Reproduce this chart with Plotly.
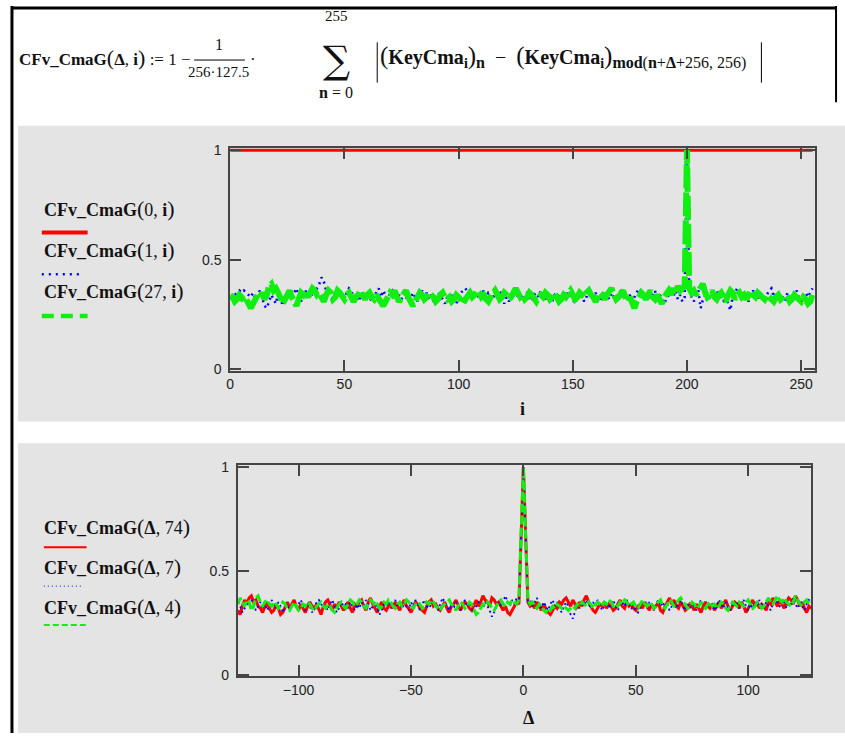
import plotly.graph_objects as go

# ---------------- data ----------------
i_vals = list(range(256))
cfv_0_i = [1.0] * 256

cfv_1_i = [
0.33,0.31,0.34,0.35,0.36,0.35,0.36,0.35,0.34,0.33,0.35,0.32,0.34,0.36,0.33,0.29,
0.28,0.31,0.34,0.32,0.30,0.35,0.33,0.29,0.34,0.32,0.36,0.33,0.35,0.37,0.33,0.31,
0.34,0.36,0.32,0.35,0.33,0.34,0.37,0.39,0.42,0.40,0.36,0.35,0.34,0.32,0.35,0.33,
0.36,0.34,0.32,0.35,0.37,0.36,0.33,0.34,0.31,0.33,0.35,0.32,0.34,0.33,0.31,0.34,
0.35,0.37,0.33,0.36,0.34,0.32,0.35,0.36,0.33,0.31,0.34,0.32,0.35,0.33,0.34,0.32,
0.35,0.33,0.31,0.34,0.36,0.33,0.35,0.32,0.34,0.31,0.33,0.35,0.34,0.32,0.30,0.33,
0.31,0.34,0.32,0.30,0.33,0.35,0.36,0.37,0.35,0.36,0.34,0.33,0.35,0.32,0.34,0.36,
0.33,0.35,0.34,0.32,0.35,0.33,0.36,0.34,0.30,0.33,0.31,0.34,0.36,0.35,0.33,0.34,
0.32,0.34,0.35,0.33,0.31,0.34,0.35,0.33,0.36,0.34,0.32,0.35,0.33,0.31,0.34,0.35,
0.33,0.32,0.34,0.36,0.33,0.35,0.32,0.30,0.33,0.35,0.34,0.31,0.33,0.36,0.34,0.32,
0.35,0.33,0.31,0.34,0.36,0.34,0.32,0.35,0.33,0.31,0.34,0.36,0.33,0.35,0.32,0.34,
0.31,0.33,0.35,0.37,0.36,0.33,0.34,0.32,0.35,0.33,0.36,0.31,0.34,0.33,0.30,0.32,
0.34,0.35,0.33,0.36,0.32,0.34,0.31,0.33,1.00,0.35,0.33,0.31,0.34,0.36,0.28,0.32,
0.34,0.31,0.33,0.35,0.32,0.36,0.34,0.33,0.31,0.35,0.30,0.27,0.33,0.35,0.37,0.34,
0.32,0.35,0.33,0.31,0.34,0.36,0.33,0.32,0.35,0.33,0.31,0.34,0.36,0.37,0.33,0.35,
0.32,0.34,0.33,0.31,0.35,0.33,0.34,0.32,0.36,0.33,0.31,0.34,0.35,0.33,0.35,0.37]

cfv_27_i = [
0.34,0.33,0.31,0.32,0.34,0.33,0.31,0.32,0.30,0.28,0.30,0.32,0.34,0.33,0.35,0.32,
0.34,0.38,0.39,0.36,0.37,0.35,0.33,0.30,0.32,0.35,0.36,0.33,0.31,0.29,0.32,0.35,
0.34,0.36,0.33,0.35,0.37,0.36,0.34,0.35,0.33,0.31,0.34,0.36,0.35,0.32,0.33,0.36,
0.35,0.33,0.32,0.34,0.35,0.33,0.31,0.33,0.34,0.36,0.33,0.32,0.34,0.35,0.33,0.32,
0.34,0.32,0.30,0.29,0.31,0.33,0.35,0.34,0.36,0.33,0.31,0.33,0.35,0.36,0.33,0.31,
0.29,0.31,0.33,0.35,0.34,0.32,0.33,0.35,0.34,0.33,0.31,0.32,0.34,0.35,0.33,0.32,
0.33,0.31,0.32,0.34,0.33,0.31,0.30,0.32,0.34,0.35,0.33,0.34,0.36,0.35,0.33,0.34,
0.32,0.31,0.33,0.35,0.36,0.34,0.32,0.33,0.35,0.34,0.32,0.33,0.35,0.37,0.35,0.33,
0.34,0.32,0.33,0.35,0.34,0.32,0.31,0.33,0.34,0.33,0.35,0.34,0.32,0.33,0.35,0.33,
0.31,0.32,0.34,0.33,0.35,0.36,0.34,0.32,0.33,0.35,0.34,0.33,0.35,0.36,0.34,0.33,
0.31,0.33,0.35,0.34,0.32,0.34,0.36,0.37,0.34,0.32,0.33,0.35,0.36,0.33,0.31,0.33,
0.30,0.28,0.31,0.33,0.35,0.34,0.32,0.34,0.36,0.33,0.32,0.34,0.31,0.30,0.33,0.35,
0.36,0.34,0.37,0.35,0.38,0.36,0.37,0.38,1.00,0.37,0.35,0.36,0.34,0.36,0.38,0.39,
0.35,0.33,0.34,0.36,0.33,0.32,0.34,0.35,0.33,0.31,0.34,0.36,0.35,0.32,0.34,0.35,
0.33,0.34,0.32,0.34,0.36,0.34,0.33,0.35,0.34,0.33,0.32,0.34,0.33,0.32,0.31,0.33,
0.34,0.32,0.33,0.34,0.33,0.31,0.32,0.34,0.33,0.32,0.31,0.33,0.32,0.30,0.31,0.34]

delta_vals = list(range(-127, 129))

cfv_d_74 = [
0.31,0.29,0.33,0.36,0.34,0.37,0.38,0.35,0.36,0.33,0.32,0.30,0.33,0.35,0.32,0.30,
0.31,0.34,0.32,0.29,0.30,0.33,0.35,0.32,0.34,0.36,0.33,0.31,0.34,0.32,0.30,0.33,
0.35,0.33,0.32,0.34,0.31,0.29,0.33,0.35,0.36,0.33,0.31,0.34,0.32,0.35,0.33,0.31,
0.33,0.35,0.32,0.30,0.34,0.33,0.35,0.36,0.33,0.31,0.35,0.37,0.34,0.32,0.30,0.33,
0.35,0.32,0.31,0.33,0.34,0.32,0.35,0.33,0.31,0.34,0.36,0.33,0.32,0.30,0.33,0.35,
0.34,0.32,0.31,0.30,0.33,0.35,0.36,0.33,0.34,0.32,0.31,0.33,0.35,0.32,0.30,0.33,
0.34,0.36,0.33,0.31,0.33,0.35,0.34,0.32,0.31,0.34,0.36,0.33,0.35,0.38,0.36,0.35,
0.33,0.37,0.36,0.34,0.35,0.33,0.31,0.33,0.30,0.29,0.31,0.33,0.35,0.34,0.67,1.00,
0.67,0.35,0.33,0.34,0.32,0.35,0.33,0.31,0.34,0.32,0.30,0.29,0.31,0.33,0.32,0.35,
0.34,0.36,0.37,0.35,0.33,0.36,0.34,0.32,0.35,0.33,0.36,0.38,0.35,0.33,0.31,0.30,
0.32,0.34,0.33,0.35,0.32,0.34,0.33,0.31,0.32,0.34,0.36,0.33,0.32,0.35,0.33,0.34,
0.32,0.31,0.33,0.34,0.32,0.35,0.33,0.31,0.34,0.32,0.33,0.35,0.31,0.30,0.33,0.35,
0.37,0.34,0.36,0.33,0.32,0.35,0.33,0.31,0.32,0.34,0.33,0.31,0.34,0.32,0.30,0.33,
0.35,0.33,0.32,0.34,0.31,0.33,0.35,0.32,0.34,0.36,0.33,0.31,0.33,0.35,0.34,0.32,
0.35,0.33,0.30,0.32,0.34,0.36,0.33,0.35,0.32,0.34,0.33,0.31,0.35,0.34,0.37,0.35,
0.33,0.36,0.34,0.32,0.35,0.37,0.36,0.34,0.38,0.36,0.33,0.35,0.32,0.30,0.33,0.32]

cfv_d_7 = [
0.35,0.33,0.30,0.32,0.34,0.33,0.36,0.34,0.31,0.33,0.35,0.32,0.34,0.31,0.33,0.36,
0.34,0.32,0.35,0.33,0.30,0.32,0.34,0.31,0.33,0.35,0.32,0.34,0.36,0.33,0.31,0.35,
0.33,0.30,0.32,0.35,0.36,0.34,0.32,0.33,0.31,0.34,0.36,0.33,0.30,0.32,0.35,0.33,
0.34,0.32,0.35,0.33,0.31,0.34,0.32,0.35,0.33,0.36,0.34,0.31,0.33,0.35,0.32,0.29,
0.31,0.34,0.33,0.35,0.32,0.34,0.36,0.33,0.35,0.32,0.34,0.33,0.31,0.35,0.33,0.36,
0.33,0.31,0.34,0.36,0.33,0.32,0.34,0.35,0.33,0.31,0.34,0.37,0.35,0.33,0.31,0.34,
0.32,0.35,0.33,0.31,0.34,0.36,0.33,0.35,0.32,0.30,0.33,0.35,0.34,0.32,0.35,0.33,
0.31,0.28,0.30,0.33,0.35,0.33,0.36,0.38,0.35,0.33,0.36,0.34,0.37,0.35,0.66,1.00,
0.66,0.34,0.36,0.33,0.35,0.37,0.34,0.32,0.35,0.33,0.31,0.34,0.36,0.33,0.35,0.32,
0.30,0.33,0.35,0.33,0.29,0.27,0.31,0.34,0.32,0.35,0.33,0.36,0.34,0.32,0.35,0.33,
0.36,0.34,0.31,0.33,0.35,0.32,0.34,0.36,0.33,0.31,0.34,0.35,0.33,0.36,0.34,0.32,
0.33,0.31,0.30,0.33,0.35,0.34,0.32,0.35,0.33,0.31,0.34,0.36,0.33,0.35,0.32,0.34,
0.31,0.33,0.35,0.32,0.34,0.36,0.33,0.31,0.34,0.32,0.35,0.33,0.31,0.34,0.36,0.33,
0.32,0.35,0.33,0.34,0.31,0.33,0.36,0.34,0.32,0.35,0.33,0.31,0.34,0.33,0.35,0.32,
0.34,0.36,0.33,0.31,0.34,0.32,0.35,0.33,0.36,0.34,0.32,0.35,0.33,0.31,0.34,0.36,
0.35,0.33,0.34,0.36,0.32,0.35,0.33,0.37,0.34,0.32,0.35,0.33,0.31,0.34,0.36,0.35]

cfv_d_4 = [
0.34,0.37,0.35,0.33,0.36,0.35,0.31,0.33,0.37,0.38,0.35,0.33,0.35,0.36,0.34,0.33,
0.35,0.34,0.32,0.33,0.35,0.34,0.32,0.31,0.33,0.35,0.33,0.31,0.32,0.34,0.33,0.35,
0.34,0.32,0.31,0.33,0.34,0.35,0.33,0.32,0.34,0.33,0.31,0.30,0.32,0.34,0.35,0.33,
0.32,0.34,0.36,0.35,0.33,0.34,0.36,0.35,0.33,0.32,0.34,0.36,0.35,0.33,0.34,0.32,
0.33,0.35,0.34,0.36,0.35,0.33,0.32,0.34,0.35,0.33,0.34,0.36,0.35,0.33,0.32,0.34,
0.35,0.34,0.32,0.33,0.35,0.34,0.36,0.35,0.33,0.32,0.31,0.33,0.34,0.35,0.36,0.34,
0.33,0.31,0.33,0.35,0.34,0.32,0.33,0.35,0.34,0.31,0.29,0.30,0.32,0.34,0.33,0.35,
0.34,0.32,0.31,0.33,0.35,0.36,0.34,0.33,0.35,0.34,0.36,0.35,0.34,0.36,0.67,1.00,
0.67,0.36,0.34,0.35,0.33,0.32,0.34,0.33,0.31,0.30,0.32,0.31,0.33,0.32,0.34,0.33,
0.32,0.33,0.32,0.31,0.32,0.33,0.32,0.34,0.33,0.35,0.34,0.33,0.35,0.34,0.32,0.34,
0.35,0.34,0.33,0.35,0.34,0.36,0.35,0.33,0.34,0.33,0.35,0.34,0.36,0.35,0.33,0.34,
0.35,0.33,0.32,0.34,0.36,0.34,0.33,0.35,0.34,0.32,0.33,0.35,0.36,0.33,0.32,0.34,
0.36,0.35,0.33,0.34,0.36,0.37,0.35,0.34,0.32,0.33,0.35,0.34,0.32,0.33,0.35,0.33,
0.32,0.34,0.35,0.33,0.34,0.32,0.33,0.35,0.34,0.32,0.31,0.33,0.35,0.34,0.33,0.35,
0.34,0.33,0.35,0.36,0.34,0.32,0.33,0.35,0.34,0.32,0.33,0.35,0.37,0.35,0.34,0.36,
0.38,0.36,0.35,0.37,0.35,0.34,0.33,0.35,0.38,0.36,0.34,0.33,0.35,0.36,0.34,0.35]

top_xticks = [0, 50, 100, 150, 200, 250]
bot_xticks = [-100, -50, 0, 50, 100]
bot_xtick_text = ["\u2212100", "\u221250", "0", "50", "100"]
y_ticks = [0, 0.5, 1]
y_tick_text = ["0", "0.5", "1"]

top_legend_args = ["0", "1", "27"]
bot_legend_args = ["74", "7", "4"]

# ---------------- layout helpers ----------------
W, H = 845, 740
def px(x): return x / W
def py(y): return 1 - y / H

GRAY = "#e4e4e4"
AX = "#454545"
SERIF = "Liberation Serif"
SANS = "Liberation Sans"
GREEN = "#11ee11"

fig = go.Figure()

fig.add_trace(go.Scatter(x=i_vals, y=cfv_0_i, mode="lines",
                         line=dict(color="#ff0000", width=3), xaxis="x", yaxis="y"))
fig.add_trace(go.Scatter(x=i_vals, y=cfv_1_i, mode="lines",
                         line=dict(color="#0000ff", width=2.5, dash="2px,4px"), xaxis="x", yaxis="y"))
fig.add_trace(go.Scatter(x=i_vals, y=cfv_27_i, mode="lines",
                         line=dict(color=GREEN, width=6, dash="24px,4px"), xaxis="x", yaxis="y"))

fig.add_trace(go.Scatter(x=delta_vals, y=cfv_d_74, mode="lines",
                         line=dict(color="#ff0000", width=3), xaxis="x2", yaxis="y2"))
fig.add_trace(go.Scatter(x=delta_vals, y=cfv_d_7, mode="lines",
                         line=dict(color="#0000ff", width=1.8, dash="2px,3px"), xaxis="x2", yaxis="y2"))
fig.add_trace(go.Scatter(x=delta_vals, y=cfv_d_4, mode="lines",
                         line=dict(color=GREEN, width=3, dash="9px,3px"), xaxis="x2", yaxis="y2"))

# top plot: y=0 at 370px, y=1 at 146.7px ; x=0 at 227.3px, x=256 at 814.7px
t_ppu = (370 - 146.7)
t_lo, t_hi = -0.005, 1.008
top_ydom = [py(370 - t_lo * t_ppu), py(370 - t_hi * t_ppu)]
# bottom plot: y=0 at 680.7px, y=1 at 469.3px ; x=-127 at 235, x=128 at 811
b_ppu = (680.7 - 469.3)
b_lo, b_hi = -0.005, 1.008
bot_ydom = [py(680.7 - b_lo * b_ppu), py(680.7 - b_hi * b_ppu)]

axis_common = dict(showline=True, linecolor=AX, linewidth=2, mirror="ticks",
                   ticks="inside", ticklen=11, tickwidth=2, tickcolor=AX,
                   showgrid=False, zeroline=False,
                   tickfont=dict(family=SANS, size=14, color="#222222"))

fig.update_layout(
    width=W, height=H, autosize=False,
    margin=dict(l=0, r=0, t=0, b=0, pad=0),
    paper_bgcolor="white", plot_bgcolor=GRAY,
    showlegend=False,
    xaxis=dict(domain=[px(227.3), px(814.7)], range=[0, 256], anchor="y",
               tickvals=top_xticks, ticktext=[str(v) for v in top_xticks], **axis_common),
    yaxis=dict(domain=top_ydom, range=[t_lo, t_hi], anchor="x",
               tickvals=y_ticks, ticktext=y_tick_text, ticklabelstandoff=4, **axis_common),
    xaxis2=dict(domain=[px(235), px(811)], range=[-127, 128], anchor="y2",
                tickvals=bot_xticks, ticktext=bot_xtick_text, **axis_common),
    yaxis2=dict(domain=bot_ydom, range=[b_lo, b_hi], anchor="x2",
                tickvals=y_ticks, ticktext=y_tick_text, ticklabelstandoff=4, **axis_common),
)

def hline(x0, x1, y, color, width, dash=None):
    d = dict(color=color, width=width)
    if dash:
        d["dash"] = dash
    return dict(type="line", xref="paper", yref="paper", x0=px(x0), x1=px(x1), y0=py(y), y1=py(y), line=d)

def vline(x, y0, y1, color, width):
    return dict(type="line", xref="paper", yref="paper", x0=px(x), x1=px(x), y0=py(y0), y1=py(y1),
                line=dict(color=color, width=width))

shapes = []
# gray panels
shapes.append(dict(type="rect", xref="paper", yref="paper", x0=px(14), x1=px(845), y0=py(423), y1=py(122),
                   fillcolor=GRAY, line=dict(width=0), layer="below"))
shapes.append(dict(type="rect", xref="paper", yref="paper", x0=px(14), x1=px(845), y0=py(740), y1=py(445),
                   fillcolor=GRAY, line=dict(width=0), layer="below"))
# black frame
shapes.append(vline(8, 0, 740, "black", 3))
shapes.append(hline(8, 836, 2, "black", 3))
shapes.append(vline(836, 0, 98, "black", 2))
# fraction bar
shapes.append(hline(191, 242, 55, "black", 1))
# absolute value bars
shapes.append(vline(375, 37, 78, "black", 1))
shapes.append(vline(761, 37, 78, "black", 1))

# legend samples top
shapes.append(hline(38, 84, 230.5, "#ff0000", 4))
shapes.append(hline(38, 80, 273, "#0000ff", 2.5, "2px,5px"))
shapes.append(hline(38, 84, 315.5, GREEN, 4.5, "12px,7px"))
# legend samples bottom
shapes.append(hline(40, 83, 551, "#ff0000", 2))
shapes.append(hline(40, 80, 590.5, "#0000ff", 1, "1px,3px"))
shapes.append(hline(40, 83, 630, GREEN, 2, "6px,3px"))
fig.update_layout(shapes=shapes)

ann = []
def text(x, y, s, size=18, xanchor="left", family=SERIF, color="#111111"):
    ann.append(dict(x=px(x), y=py(y), xref="paper", yref="paper", text=s, showarrow=False,
                    xanchor=xanchor, yanchor="middle", font=dict(family=family, size=size, color=color)))

P = "<span style='font-size:22px'>%s</span>"
P2 = "<span style='font-size:25px'>%s</span>"
SUB = "<sub><span style='font-size:16px'>%s</span></sub>"
# formula
text(13, 52, "<b>CFv_CmaG</b>" + P % "(" + "<b>\u0394</b>, <b>i</b>" + P % ")" + " := 1 \u2212", size=17)
text(216, 39, "1", size=16, xanchor="center")
text(216, 67, "256\u00b7127.5", size=15, xanchor="center")
text(250, 54, "\u00b7", size=17, xanchor="center")
text(334, 55, "\u2211", size=38, xanchor="center", family="DejaVu Serif")
text(334, 10, "255", size=15, xanchor="center")
text(334, 88, "<b>n</b> = 0", size=16, xanchor="center")
text(376, 52, P2 % "(" + "<b>KeyCma<sub>i</sub></b>" + P2 % ")" + SUB % "<b>n</b>" + "  \u2212  "
     + P2 % "(" + "<b>KeyCma<sub>i</sub></b>" + P2 % ")"
     + SUB % "<b>mod</b>(<b>n</b>+<b>\u0394</b>+256, 256)", size=20)

# legends
for k, d in enumerate(top_legend_args):
    text(38, [206, 248, 290][k], "<b>CFv_CmaG</b>" + P % "(" + d + ", <b>i</b>" + P % ")")
for k, d in enumerate(bot_legend_args):
    text(38, [530, 571, 611][k], "<b>CFv_CmaG</b>" + P % "(" + "<b>\u0394</b>, " + d + P % ")")

# axis titles
text(521, 410, "<b>i</b>", size=18, xanchor="center")
text(527, 725, "<b>\u0394</b>", size=18, xanchor="center")

fig.update_layout(annotations=ann)
fig.write_html("out.html", config={"displayModeBar": False},
               post_script="document.body.style.margin='0';document.body.style.padding='0';"
                           "document.documentElement.style.overflow='hidden';")
